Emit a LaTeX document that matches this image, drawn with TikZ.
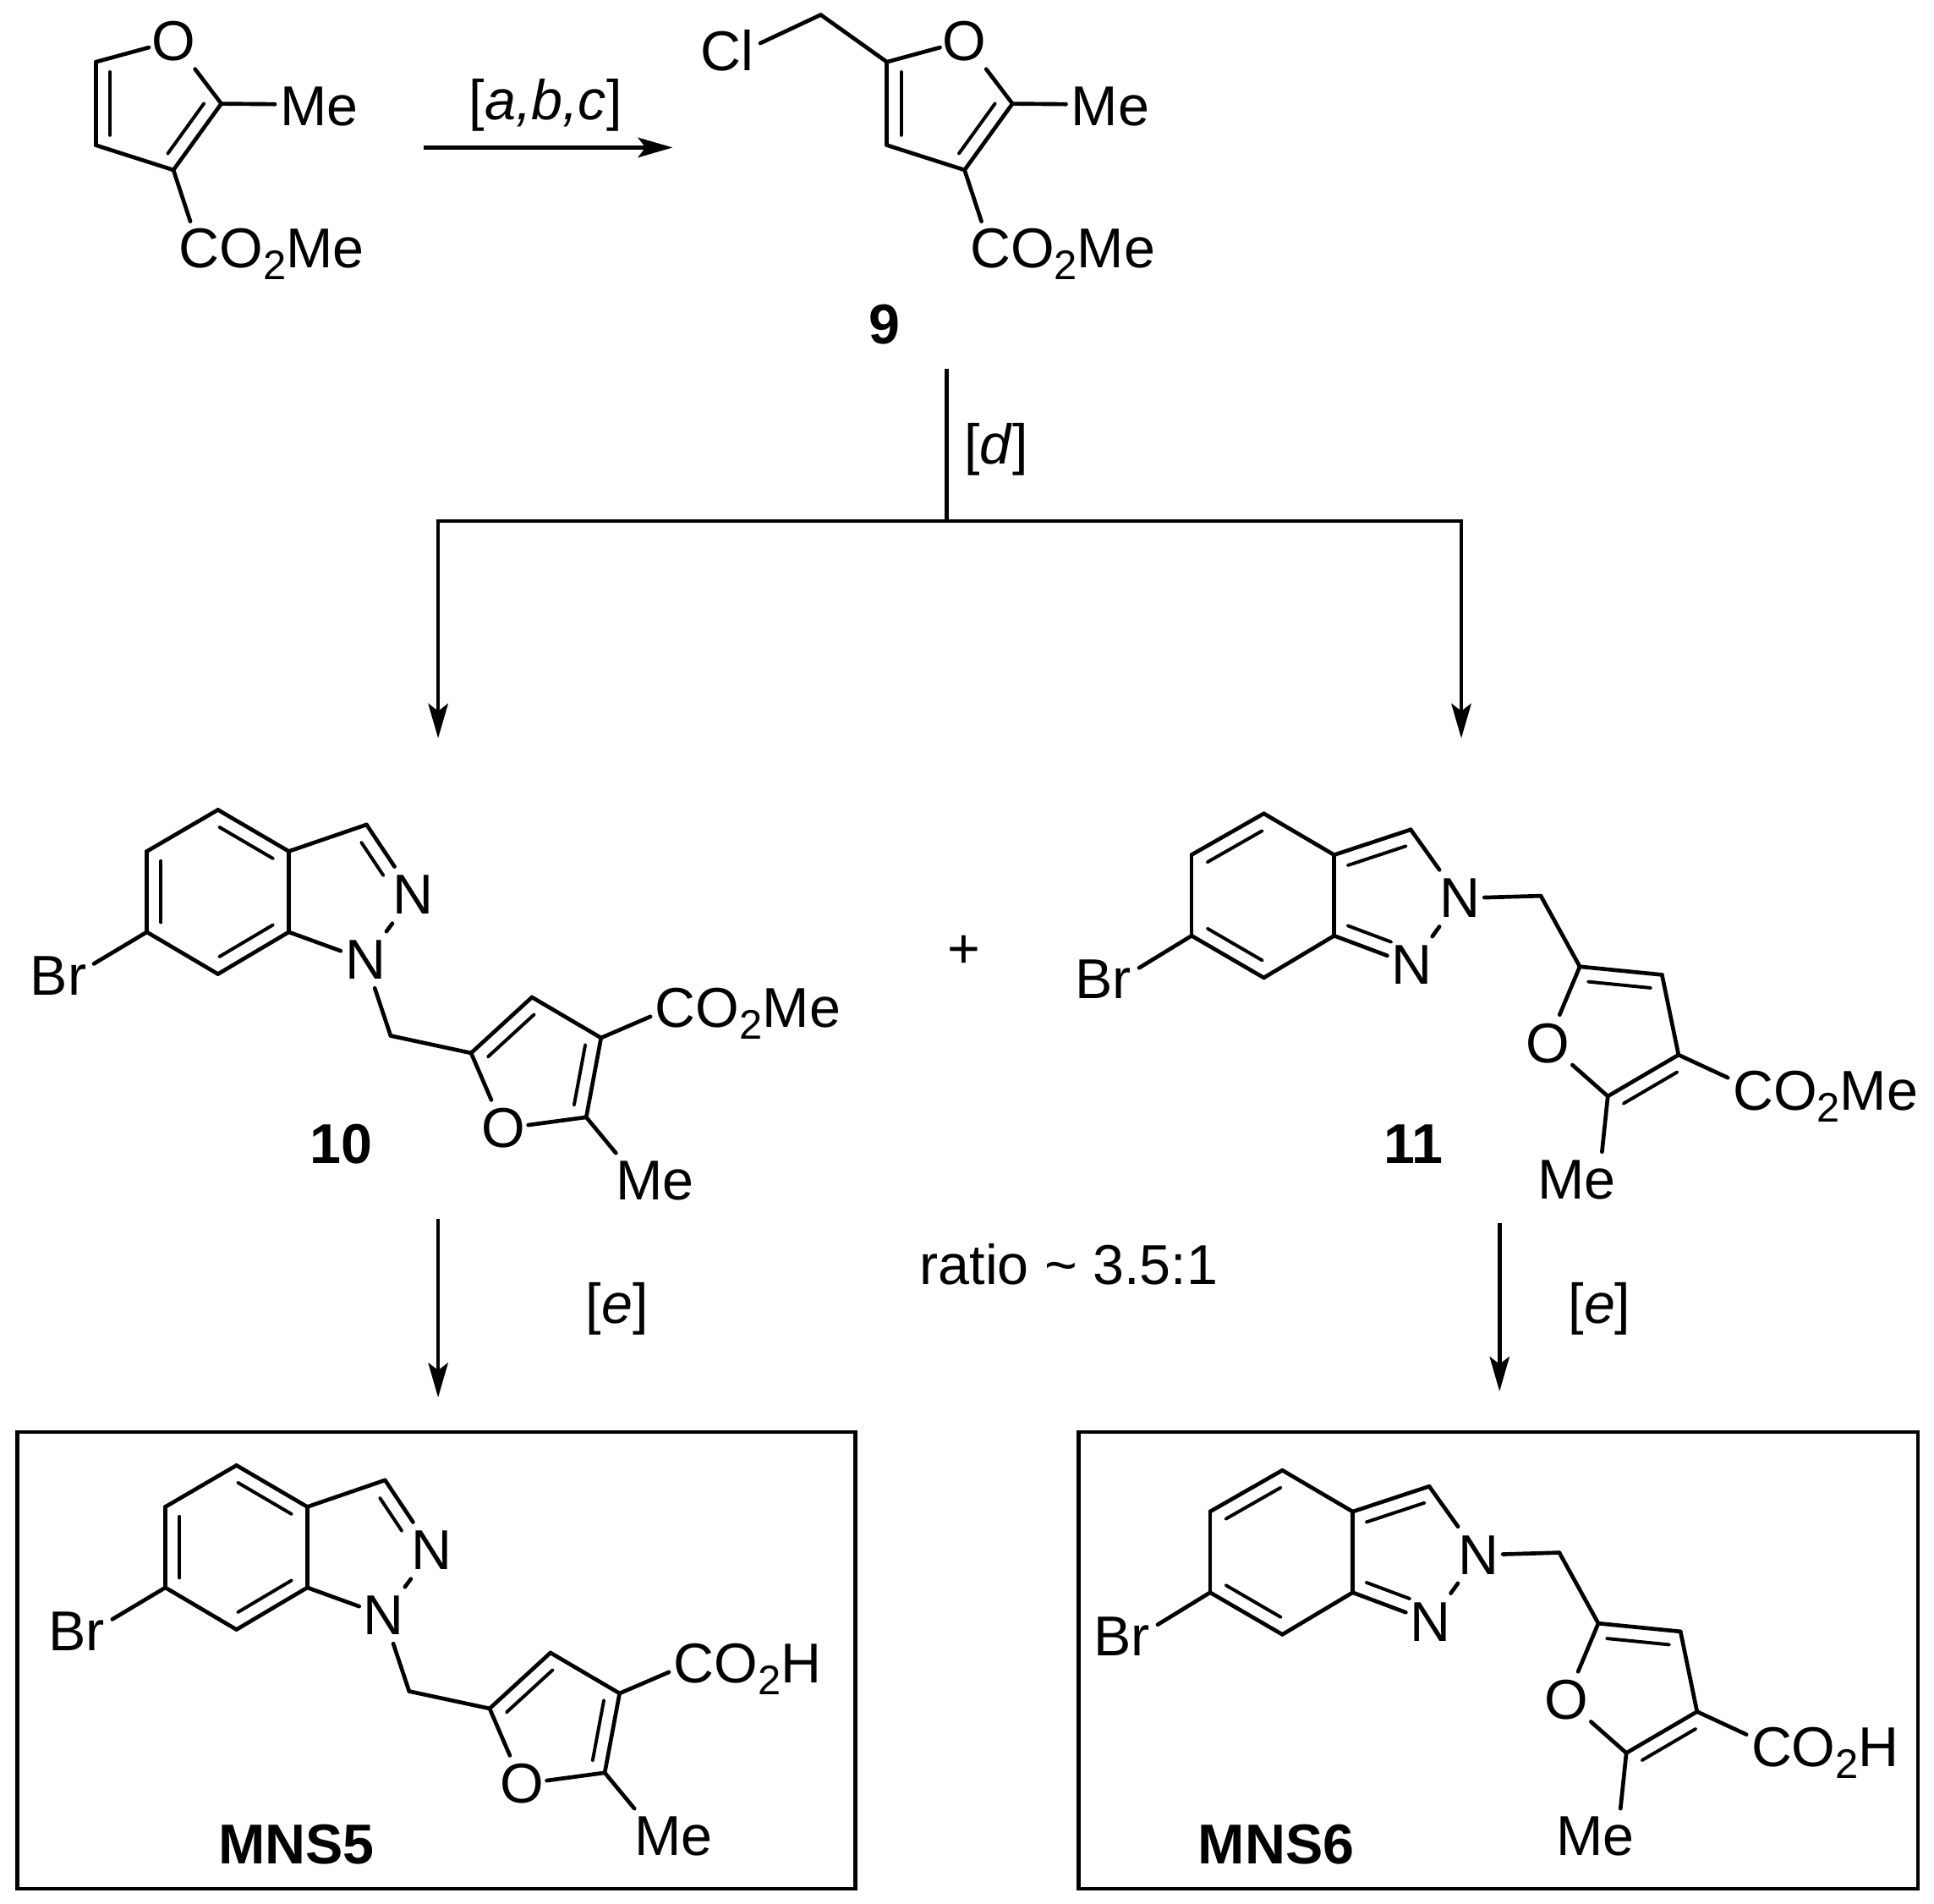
\documentclass[tikz,border=0pt]{standalone}
\usepackage{fontspec}
\setmainfont{Liberation Sans}
\usetikzlibrary{calc,arrows.meta}
\tikzset{
  bond/.style={line width=3.2pt,line cap=round,line join=round},
  inbond/.style={line width=2.7pt,line cap=round},
  atomlab/.style={font=\fontsize{45.5}{52}\selectfont,inner sep=0pt,outer sep=0pt,text=black},
  atomc/.style={atomlab,rectangle,minimum width=40pt,minimum height=46pt,anchor=center},
  grp/.style={atomlab,anchor=base west},
  boldlab/.style={font=\fontsize{45.5}{52}\selectfont\bfseries,inner sep=0pt},
  txt/.style={font=\fontsize{45.5}{52}\selectfont,inner sep=0pt},
  rxn/.style={line width=3.2pt,-{Stealth[length=28pt,width=16pt,inset=6pt]}},
  plainline/.style={line width=3.2pt},
  frame/.style={line width=3.2pt,draw=black,outer sep=0pt,inner sep=0pt,anchor=north west}
}
\newcommand\sbond[2]{\draw[bond] (#1) -- (#2);}
\newcommand\dbond[2]{\draw[bond] (#1) -- (#2);
  \draw[inbond] ($(#1)!0.12!(#2)!11.5pt!90:(#2)$) -- ($(#2)!0.12!(#1)!11.5pt!-90:(#1)$);}
\newcommand\cotwo[1]{CO\raisebox{-0.21em}{\fontsize{33.5}{34}\selectfont 2}#1}
% top furan
\newcommand\topfuran[3]{%
\begin{scope}[shift={(#2,0)},name prefix=#1-]
  \coordinate (a) at (77.6,50.2); \coordinate (b) at (77.6,117.6);
  \coordinate (c) at (140.5,137.7); \coordinate (d) at (179.3,84);
  \coordinate (meend) at (222.7,84.4); \coordinate (coend) at (154.2,179.3);
  \node[atomc] (o) at (140.6,33) {O};
  \node[grp] (me) at (227,101.6) {Me};
  \node[grp] (co) at (145,217) {\cotwo{Me}};
  \sbond{b}{c}\sbond{a}{o}\sbond{d}{o}
  \dbond{a}{b}\dbond{c}{d}
  \sbond{d}{meend}\sbond{c}{coend}
  #3
\end{scope}}
% N1 indazole
\newcommand\indA[4]{%
\begin{scope}[shift={(#2,#3)},name prefix=#1-]
  \coordinate (c7) at (176.6,656); \coordinate (c6) at (119,689.6);
  \coordinate (c5) at (119,755); \coordinate (c4) at (176.6,789);
  \coordinate (c3b) at (234,755); \coordinate (c3a) at (234,689.6);
  \coordinate (c3) at (297,668);
  \coordinate (ch) at (316.5,839); \coordinate (f5) at (381.7,853);
  \coordinate (f4) at (431,807.8); \coordinate (f3) at (487,840.7);
  \coordinate (f2) at (475,905); \coordinate (coend) at (527,823.5);
  \coordinate (meend) at (499,934); \coordinate (brend) at (76,780.7);
  \node[atomc] (n2) at (335,725) {N};
  \node[atomc] (n1) at (296,777.5) {N};
  \node[atomc] (o) at (408,914) {O};
  \node[grp] (br) at (24.5,806) {Br};
  \node[grp] (co) at (531,832) {\cotwo{#4}};
  \node[grp] (me) at (499,972) {Me};
  \dbond{c3a}{c7}\sbond{c7}{c6}\dbond{c6}{c5}\sbond{c5}{c4}\dbond{c4}{c3b}\sbond{c3b}{c3a}
  \sbond{c3a}{c3}\sbond{c3b}{n1}\sbond{n1}{n2}\sbond{n1}{ch}\sbond{ch}{f5}
  \draw[bond] (c3) -- (n2);
  \draw[inbond] ($(c3)!0.14!(n2)!11.5pt!-90:(n2)$) -- ($(n2)!0.39!(c3)!11.5pt!90:(c3)$);
  \dbond{f4}{f5}\sbond{f4}{f3}\dbond{f2}{f3}\sbond{f2}{o}\sbond{o}{f5}
  \sbond{f3}{coend}\sbond{f2}{meend}\sbond{c5}{brend}
\end{scope}}
% N2 indazole
\newcommand\indB[4]{%
\begin{scope}[shift={(#2,#3)},name prefix=#1-]
  \coordinate (c7) at (1024,659); \coordinate (c6) at (965.5,692.4);
  \coordinate (c5) at (965.5,758); \coordinate (c4) at (1024,792);
  \coordinate (c3b) at (1081,758); \coordinate (c3a) at (1081,692.5);
  \coordinate (c3) at (1143,672);
  \coordinate (ch) at (1248.4,725.7); \coordinate (f5) at (1280,783);
  \coordinate (f4) at (1346.6,789.6); \coordinate (f3) at (1360,854.5);
  \coordinate (f2) at (1302.7,888); \coordinate (coend) at (1400,873);
  \coordinate (meend) at (1298,933); \coordinate (brend) at (923,784);
  \node[atomc] (n2) at (1182.7,727.6) {N};
  \node[atomc] (n1) at (1144,781.6) {N};
  \node[atomc] (o) at (1254,845) {O};
  \node[grp] (br) at (871,809) {Br};
  \node[grp] (co) at (1404,899) {\cotwo{#4}};
  \node[grp] (me) at (1246,971) {Me};
  \sbond{c3a}{c7}\dbond{c7}{c6}\sbond{c6}{c5}\dbond{c5}{c4}\sbond{c4}{c3b}\sbond{c3b}{c3a}
  \sbond{c3}{n2}\sbond{n1}{n2}\sbond{n2}{ch}\sbond{ch}{f5}
  \draw[bond] (c3a) -- (c3);
  \draw[inbond] ($(c3a)!0.12!(c3)!11.5pt!-90:(c3)$) -- ($(c3)!0.12!(c3a)!11.5pt!90:(c3a)$);
  \draw[bond] (c3b) -- (n1);
  \draw[inbond] ($(c3b)!0.11!(n1)!11.5pt!90:(n1)$) -- ($(n1)!0.33!(c3b)!11.5pt!-90:(c3b)$);
  \dbond{f4}{f5}\sbond{f4}{f3}\dbond{f3}{f2}\sbond{f2}{o}\sbond{o}{f5}
  \sbond{f3}{coend}\sbond{f2}{meend}\sbond{c5}{brend}
\end{scope}}
\begin{document}
\begin{tikzpicture}[x=1pt,y=-1pt]
\useasboundingbox (0,0) rectangle (1567,1542.3);
\topfuran{sm}{0}{}
\topfuran{nine}{641}{
  \coordinate (clend) at (-25,35); \coordinate (ch) at (24,12);
  \node[grp] (cl) at (-73,57) {Cl};
  \sbond{a}{ch}\sbond{ch}{clend}}
\node[txt] (lab9) at (716.5,263) {\bfseries 9};
\node[txt] (abc) at (442,85) {[\textit{a,b,c}]};
\coordinate (a1s) at (343,119.5); \coordinate (a1e) at (545,119.5);
\draw[rxn] (a1s) -- (a1e);
% branch
\coordinate (d0) at (767,299); \coordinate (d1) at (767,422);
\coordinate (dl) at (355,422); \coordinate (dr) at (1184,422);
\coordinate (dle) at (355,598); \coordinate (dre) at (1184,598);
\draw[plainline] (d0) -- (d1);
\draw[rxn,line join=miter] (d1) -- (dl) -- (dle);
\draw[rxn,line join=miter] (d1) -- (dr) -- (dre);
\node[txt] (dlab) at (807,364) {[\textit{d}]};
\indA{ten}{0}{0}{Me}
\indB{ele}{0}{0}{Me}
\node[txt] (plus) at (781,771) {+};
\node[boldlab] (lab10) at (276.7,927) {10};
\node[boldlab] (lab11) at (1145,927) {11};
\node[txt] (ratio) at (866,1024.5) {ratio \textasciitilde{} 3.5:1};
\coordinate (e1s) at (355,987); \coordinate (e1e) at (355,1132);
\coordinate (e2s) at (1215,991); \coordinate (e2e) at (1215,1127);
\draw[rxn] (e1s) -- (e1e);
\draw[rxn] (e2s) -- (e2e);
\node[txt] (e1) at (500,1060) {[\textit{e}]};
\node[txt] (e2) at (1296,1060) {[\textit{e}]};
\node[frame,minimum width=679pt,minimum height=370pt] (box1) at (14,1160) {};
\node[frame,minimum width=680pt,minimum height=370pt] (box2) at (874,1160) {};
\indA{mnsf}{15}{531}{H}
\indB{mnss}{15}{532}{H}
\node[boldlab] (mns5) at (240,1494) {MNS5};
\node[boldlab] (mns6) at (1034,1494) {MNS6};
\end{tikzpicture}
\end{document}
